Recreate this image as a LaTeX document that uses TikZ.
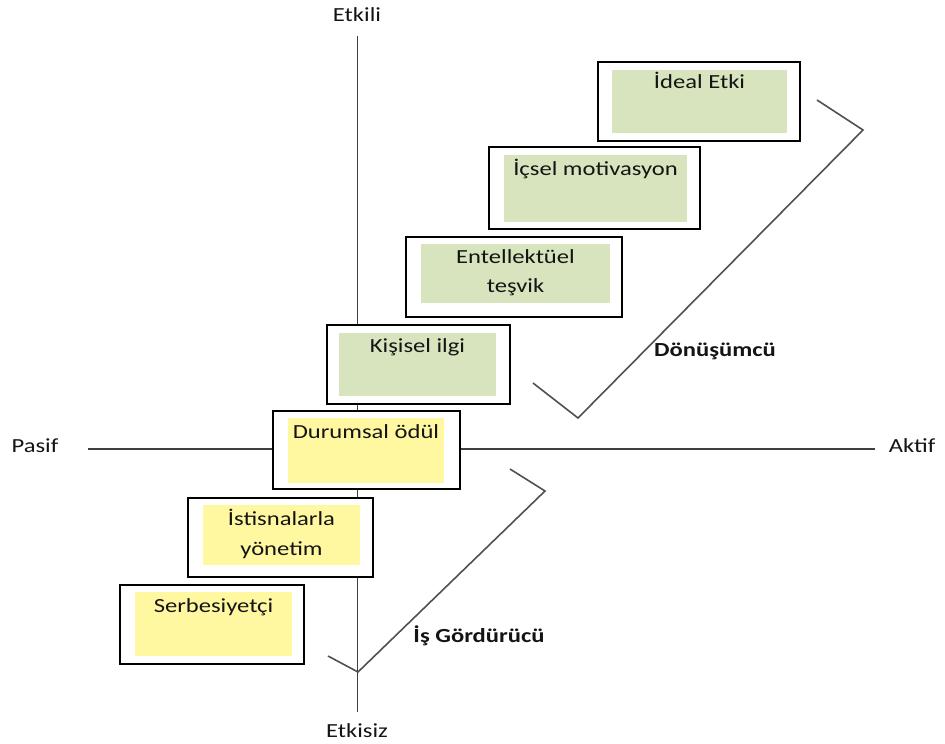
\documentclass[tikz,border=0pt]{standalone}
\usepackage{fontspec}
\setmainfont{Carlito}[FakeStretch=1.23]
\definecolor{stagegreen}{HTML}{D7E4BD}
\definecolor{stageyellow}{HTML}{FFF8A0}
\definecolor{axisgray}{HTML}{404040}
\definecolor{bracketgray}{HTML}{505050}
\definecolor{inkdark}{HTML}{141414}
\begin{document}
\begin{tikzpicture}[x=0.75pt,y=-0.75pt,
  axisline/.style={draw=axisgray,line width=1.35pt},
  bracketline/.style={draw=bracketgray,line width=1.2pt},
  outerbox/.style={draw=black,fill=white,line width=1.2pt,inner sep=0pt},
  greenfill/.style={fill=stagegreen,inner sep=0pt},
  yellowfill/.style={fill=stageyellow,inner sep=0pt},
  lbl/.style={text=inkdark,font=\fontsize{15}{22.5}\selectfont,inner sep=0pt,anchor=base,align=center},
  boldlbl/.style={lbl,font=\fontsize{15}{22.5}\selectfont\bfseries},
]
\useasboundingbox (0,0) rectangle (945,743);

% axes
\coordinate (top) at (357.5,36);
\coordinate (bottom) at (357.5,712);
\coordinate (left) at (88,449);
\coordinate (right) at (875,449);
\draw[axisline] (top) -- (bottom);
\draw[axisline] (left) -- (right);

\node[lbl] (etkili) at (357,21) {Etkili};
\node[lbl] (etkisiz) at (357,737) {Etkisiz};
\node[lbl] (pasif) at (35,452) {Pasif};
\node[lbl] (aktif) at (912,452) {Aktif};

% stages (outer frame, inner fill, caption)
\node[outerbox,minimum width=151.5pt,minimum height=59.25pt] (o1) at (699,101.5) {};
\node[greenfill,minimum width=131.25pt,minimum height=47.25pt] (i1) at (699.5,101.5) {};
\node[lbl] (t1) at (699.5,88) {İdeal Etki};

\node[outerbox,minimum width=158.25pt,minimum height=61.5pt] (o2) at (594.5,188) {};
\node[greenfill,minimum width=137.25pt,minimum height=50.25pt] (i2) at (595.5,188.5) {};
\node[lbl] (t2) at (595.5,175) {İçsel motivasyon};

\node[outerbox,minimum width=162pt,minimum height=60pt] (o3) at (514,277) {};
\node[greenfill,minimum width=141.75pt,minimum height=44.25pt] (i3) at (515.5,273.5) {};
\node[lbl] (t3) at (515.5,263) {Entellektüel};
\node[lbl] (t3b) at (515.5,292) {teşvik};

\node[outerbox,minimum width=137.25pt,minimum height=59.25pt] (o4) at (418.5,364.5) {};
\node[greenfill,minimum width=117.75pt,minimum height=47.25pt] (i4) at (417.5,364.5) {};
\node[lbl] (t4) at (417.5,352) {Kişisel ilgi};

\node[outerbox,minimum width=140.25pt,minimum height=58.5pt] (o5) at (366.5,450) {};
\node[yellowfill,minimum width=117pt,minimum height=48.75pt] (i5) at (366,450.5) {};
\node[lbl] (t5) at (366,438) {Durumsal ödül};

\node[outerbox,minimum width=138.75pt,minimum height=59.25pt] (o6) at (280.5,537.5) {};
\node[yellowfill,minimum width=117.75pt,minimum height=45pt] (i6) at (281.5,535) {};
\node[lbl] (t6) at (281.5,525) {İstisnalarla};
\node[lbl] (t6b) at (281.5,555) {yönetim};

\node[outerbox,minimum width=138pt,minimum height=59.25pt] (o7) at (212,624.5) {};
\node[yellowfill,minimum width=117.75pt,minimum height=48pt] (i7) at (213.5,624) {};
\node[lbl] (t7) at (213.5,612) {Serbesiyetçi};

% brackets
\coordinate (d1) at (817,100);
\coordinate (d2) at (863,130);
\coordinate (d3) at (578,418);
\coordinate (d4) at (533,383);
\draw[bracketline] (d1) -- (d2) -- (d3) -- (d4);
\node[boldlbl] (donusumcu) at (715,356) {Dönüşümcü};

\coordinate (g1) at (510,469);
\coordinate (g2) at (545,491);
\coordinate (g3) at (358,672);
\coordinate (g4) at (328,656);
\draw[bracketline] (g1) -- (g2) -- (g3) -- (g4);
\node[boldlbl] (isgordurucu) at (479,642) {İş Gördürücü};
\end{tikzpicture}
\end{document}
